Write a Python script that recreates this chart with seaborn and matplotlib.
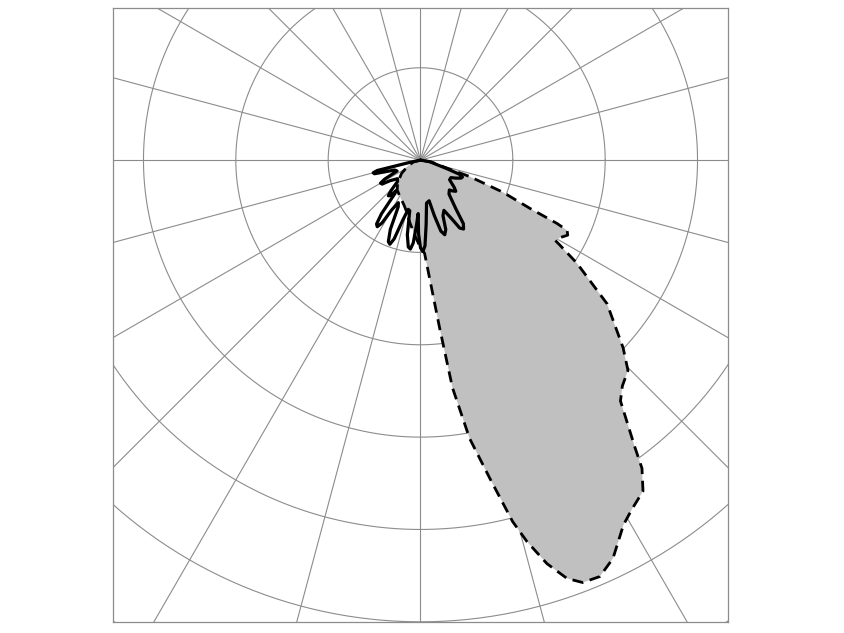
import numpy as np
import pandas as pd
import matplotlib
matplotlib.use("Agg")
import matplotlib.pyplot as plt
import seaborn as sns

# gamma angle from nadir (deg, + to the right), intensity in grid-ring units
dashed_gamma = [-90, -75, -65, -55, -45, -38, -30, -20, -15, -10, -5, 0, 2.5,
                6.5, 8.0, 10.0, 12.3, 14.3, 15.6, 17.4, 19.3, 21.0, 23.3, 25.8,
                29.1, 31.2, 33.9, 35.7, 36.7, 39.7, 41.8, 44.6, 47.2, 52.4,
                56.6, 58.6, 59.2, 61.0, 63.0, 64.4, 65.1, 66.2, 68.7, 71.5,
                73.0, 80, 90]
dashed_r = [0.0, 0.08, 0.15, 0.25, 0.35, 0.41, 0.45, 0.52, 0.58, 0.68, 0.80,
            0.95, 1.01, 1.83, 2.49, 3.06, 3.53, 4.04, 4.29, 4.58, 4.80, 4.90,
            4.91, 4.79, 4.52, 4.42, 4.32, 4.11, 3.89, 3.39, 3.28, 3.20, 2.99,
            2.55, 2.03, 1.77, 1.70, 1.73, 1.79, 1.76, 1.63, 1.295, 0.957,
            0.56, 0.30, 0.12, 0.0]

solid_gamma = [-90, -78, -76.5, -75, -73.5, -72, -69, -65, -62, -60, -58, -56,
               -51, -47, -44, -42, -40, -38.5, -37.5, -36, -34.5, -33, -31.5,
               -30, -27.5, -25.5, -23.5, -21.5, -20, -18.5, -16.5, -14, -12,
               -10, -8, -6.5, -5, -3.5, -2.5, -1.5, 0, 1.5, 3, 5, 8, 12, 14,
               16, 18, 20, 22, 25, 28, 30, 32, 34, 36, 40, 44, 46, 48.5, 51,
               56, 60, 63, 66, 68, 70, 72, 80, 90]
solid_r = [0.0, 0.12, 0.48, 0.53, 0.52, 0.42, 0.30, 0.28, 0.44, 0.50, 0.49,
           0.40, 0.32, 0.34, 0.46, 0.52, 0.50, 0.42, 0.45, 0.72, 0.84, 0.86,
           0.80, 0.62, 0.52, 0.56, 0.82, 0.95, 0.97, 0.90, 0.68, 0.55, 0.56,
           0.82, 0.95, 0.97, 0.90, 0.70, 0.58, 0.80, 0.95, 0.99, 0.93, 0.70,
           0.47, 0.45, 0.62, 0.80, 0.85, 0.80, 0.65, 0.60, 0.72, 0.85, 0.88,
           0.83, 0.65, 0.48, 0.45, 0.48, 0.51, 0.47, 0.38, 0.38, 0.43, 0.48,
           0.49, 0.45, 0.30, 0.10, 0.0]

ring_radii = [1, 2, 3, 4, 5, 6, 7]
spoke_step = 15


def to_xy(gamma, r):
    g = np.radians(np.asarray(gamma, dtype=float))
    r = np.asarray(r, dtype=float)
    return pd.DataFrame({"x": r * np.sin(g), "y": -r * np.cos(g)})


sns.set_style("white")
fig = plt.figure(figsize=(8.44, 6.33), dpi=100)
ax = fig.add_axes([113 / 844, 11 / 633, 615 / 844, 614 / 633])

# polar grid
t = np.linspace(0, 2 * np.pi, 720)
for rr in ring_radii:
    ax.plot(rr * np.cos(t), rr * np.sin(t), color="#8c8c8c", lw=0.8, zorder=1)
for a in np.arange(0, 360, spoke_step):
    ar = np.radians(a)
    ax.plot([0, 10 * np.cos(ar)], [0, 10 * np.sin(ar)], color="#8c8c8c", lw=0.8, zorder=1)

dashed = to_xy(dashed_gamma, dashed_r)
solid = to_xy(solid_gamma, solid_r)

ax.fill(dashed["x"], dashed["y"], color="#c0c0c0", lw=0, zorder=2)
sns.lineplot(data=dashed, x="x", y="y", sort=False, estimator=None, ax=ax,
             color="black", lw=2.0, linestyle=(0, (4, 2.4)), zorder=3)
sns.lineplot(data=solid, x="x", y="y", sort=False, estimator=None, ax=ax,
             color="black", lw=2.3, zorder=4)

ax.set_xlim(-3.33, 3.33)
ax.set_ylim(-5.0, 1.645)
ax.set_aspect("equal", adjustable="box")
ax.set_xticks([])
ax.set_yticks([])
ax.set_xlabel("")
ax.set_ylabel("")
for s in ax.spines.values():
    s.set_color("#8c8c8c")
    s.set_linewidth(0.9)

fig.savefig("out.png", dpi=100)
